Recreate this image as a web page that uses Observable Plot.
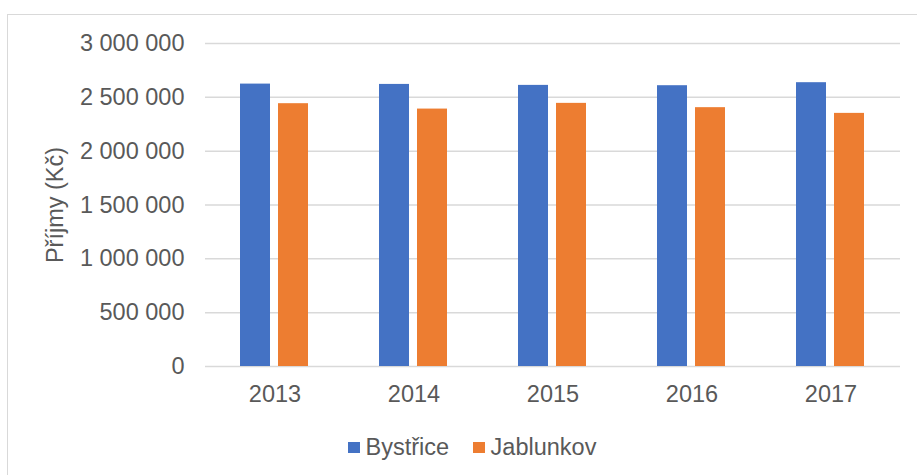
<!DOCTYPE html>
<html>
<head>
<meta charset="utf-8">
<script src="https://cdn.jsdelivr.net/npm/d3@7"></script>
<script src="https://cdn.jsdelivr.net/npm/@observablehq/plot@0.6"></script>
<style>
  html, body { margin: 0; padding: 0; background: #ffffff; }
  #wrap { position: relative; width: 917px; height: 475px; overflow: hidden; font-family: 'Liberation Sans', Arial, sans-serif; }
  #frame { position: absolute; left: 7px; top: 14px; width: 1000px; height: 600px; border-left: 1.5px solid #d9d9d9; border-top: 1.5px solid #d9d9d9; box-sizing: border-box; }
  #chart { position: absolute; left: 0; top: 0; }
  #legend { position: absolute; left: 348px; top: 432px; height: 30px; display: flex; align-items: center; font-size: 23.5px; color: #595959; white-space: nowrap; }
  #legend .sw { width: 12px; height: 11px; display: inline-block; margin-right: 5.5px; }
  #legend .item { display: flex; align-items: center; margin-right: 24px; }
</style>
</head>
<body>
<div id="wrap">
  <div id="frame"></div>
  <div id="chart"></div>
  <div id="legend"></div>
</div>
<script>
const years = ["2013", "2014", "2015", "2016", "2017"];
const series = ["Bystřice", "Jablunkov"];
const colors = ["#4472C4", "#ED7D31"];
const bystrice = [2623000, 2620000, 2611000, 2608000, 2636000];
const jablunkov = [2441000, 2391000, 2444000, 2404000, 2351000];
const yTicks = [0, 500000, 1000000, 1500000, 2000000, 2500000, 3000000];
const yTitle = "Příjmy (Kč)";

const data = years.flatMap((yr, i) => [
  {year: yr, series: series[0], value: bystrice[i]},
  {year: yr, series: series[1], value: jablunkov[i]}
]);

const fmt = d => d3.format(",")(d).replace(/,/g, " ");

const chart = Plot.plot({
  width: 917,
  height: 420,
  marginTop: 43,
  marginBottom: 54,
  marginLeft: 204,
  marginRight: 17,
  style: {fontFamily: "'Liberation Sans', Arial, sans-serif", fontSize: "23.5px", color: "#595959", background: "transparent", overflow: "visible"},
  fx: {domain: years, padding: 0, label: null, axis: "bottom", tickSize: 0, tickPadding: 19},
  x: {domain: series, paddingInner: 0.205, paddingOuter: 0.888, axis: null},
  y: {domain: [0, 3000000], ticks: yTicks, tickFormat: fmt, tickSize: 0, tickPadding: 21, label: null},
  color: {domain: series, range: colors},
  marks: [
    Plot.ruleY(yTicks, {stroke: "#d9d9d9", strokeWidth: 1.5}),
    Plot.barY(data, {fx: "year", x: "series", y: "value", fill: "series"})
  ]
});

d3.select(chart).append("text")
  .attr("transform", "translate(63,205) rotate(-90)")
  .attr("text-anchor", "middle")
  .attr("fill", "#595959")
  .style("font-size", "23.5px")
  .style("font-family", "'Liberation Sans', Arial, sans-serif")
  .text(yTitle);

document.getElementById("chart").appendChild(chart);

const legend = d3.select("#legend");
series.forEach((s, i) => {
  const item = legend.append("div").attr("class", "item");
  item.append("span").attr("class", "sw").style("background", colors[i]);
  item.append("span").text(s);
});
</script>
</body>
</html>
